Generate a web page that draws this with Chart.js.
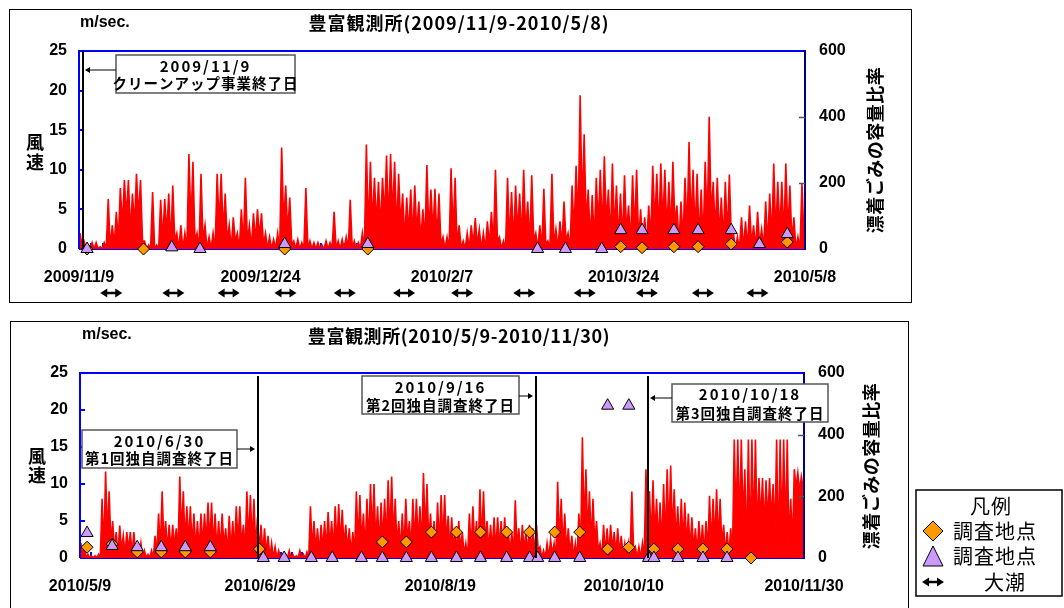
<!DOCTYPE html>
<html lang="ja">
<head>
<meta charset="utf-8">
<title>豊富観測所 風速</title>
<script src="https://cdn.jsdelivr.net/npm/chart.js@4.4.1/dist/chart.umd.min.js"></script>
<style>
  html, body { margin: 0; padding: 0; background: #fff; }
  #page { position: relative; width: 1064px; height: 608px; overflow: hidden; }
  canvas { position: absolute; left: 0; }
</style>
</head>
<body>
<div id="page">
  <canvas id="topChart" width="1064" height="312" style="top:0"></canvas>
  <canvas id="bottomChart" width="1064" height="296" style="top:312px"></canvas>
</div>
<script>
// ---- data: top panel (2009/11/9 - 2010/5/8), one entry per day ----
const topTickDays = [0, 45, 90, 135, 180];
const topTickLabels = ["2009/11/9", "2009/12/24", "2010/2/7", "2010/3/24", "2010/5/8"];

// daily peak / low wind speed (m/sec.)
const topWindHigh = [
  2, 1, 0.5, 0.8, 0.8, 0.3, 0.8, 6.3, 3, 4.7,
  7.7, 8.7, 8.7, 7, 9.5, 8.7, 1, 0.5, 7.2, 0.5,
  6.2, 6.3, 7, 8, 2, 3, 2, 12, 11, 2,
  9.5, 3, 1.5, 2, 9.5, 9.5, 7, 3, 4, 2,
  5, 9, 3, 4.5, 5, 4.5, 2, 1.5, 1.2, 2,
  12.8, 8, 6.5, 1, 1.2, 0.8, 7.7, 1, 0.8, 0.8,
  0.5, 1, 0.8, 4.7, 1, 1.2, 1.5, 6.2, 1, 0.8,
  2, 13.2, 11, 9, 8.5, 9, 11.8, 12, 11, 9.5,
  7, 6.5, 7.5, 8, 6, 5, 10.6, 7.5, 7.6, 7,
  1.5, 1.5, 10.2, 9, 3, 1, 2, 3, 3.9, 2.5,
  2, 3.5, 4.7, 10, 1.5, 1, 9, 7.2, 8, 7,
  10, 6, 9.3, 2, 3, 7.6, 1, 9.5, 2.5, 3.5,
  6, 2, 8, 10.5, 19.4, 14.5, 7.5, 6.8, 9, 10,
  11.7, 7.5, 10.8, 8, 7, 9.3, 5.5, 9.3, 10, 5,
  4, 5.5, 10.5, 9.5, 10.8, 10, 8.5, 11, 5.5, 6,
  9, 13.5, 10, 9.5, 7.5, 11, 16.7, 8.5, 9, 6.5,
  8.5, 9.4, 2, 1.5, 4, 3.5, 5.5, 3, 4.7, 2.5,
  6, 7, 10.8, 8.5, 8.5, 10.8, 8, 4, 1.5, 8.3
];
const topWindLow = [
  0.5, 0, 0, 0, 0, 0, 0, 0, 0.5, 1,
  3, 4, 2, 3, 4, 1, 0, 0, 0, 0,
  1, 2, 0.5, 1, 0, 0, 0, 3, 1, 0,
  1, 0, 0, 0, 3, 2, 1, 0, 1, 0,
  0.5, 1, 0, 1, 1.5, 0.5, 0, 0, 0, 0,
  3, 2, 0.5, 0, 0, 0, 0, 0, 0, 0,
  0, 0, 0, 0, 0, 0, 0, 0, 0, 0,
  0, 2, 3, 3, 2.5, 4, 3, 4, 2, 3,
  1, 2, 1.5, 2, 1, 1, 2, 2, 1, 0.5,
  0, 0, 2, 0.5, 0, 0, 0, 0.5, 0.5, 0,
  0, 0.5, 0.5, 1, 0, 0, 1, 0.5, 2, 1,
  2, 0.5, 1, 0, 0, 0.5, 0, 0.5, 0, 0.5,
  1, 0, 2, 3, 5, 3, 1, 1, 3, 2,
  3, 1, 2, 1, 1, 2, 0.5, 2, 1, 0.5,
  0.5, 1, 3, 2, 3, 2, 2, 3, 0.5, 1,
  2, 3, 2, 1, 1, 3, 4, 2, 1.5, 1,
  1.5, 1, 0, 0, 0, 0, 0.5, 0, 0.5, 0,
  0.5, 1, 2, 2, 1.5, 2, 1, 0, 0, 1
];

// survey points (right axis, 容量比率)
const topDiamondDays = [2, 16, 51, 71.6, 134.3, 139.6, 147.5, 153.5, 161.7, 175.6];
const topDiamondValues = [0, 0, 0, 0, 7, 4, 7, 7, 15, 21];
const topTriangleDays = [2, 23, 30, 51, 71.6, 113.7, 120.6, 129.6, 134.3, 139.6, 147.5, 153.5, 161.7, 168.7, 175.6];
const topTriangleValues = [0, 5, 0, 15, 15, 0, 0, 0, 57, 57, 57, 57, 57, 15, 45];

// spring tides (大潮)
const topTideDays = [8, 23.4, 37.1, 51.2, 65.9, 80.6, 95, 110.4, 125.4, 140.8, 154.7, 168.2];

const topEventDays = [1];
const topEventLabels = [["2009/11/9", "クリーンアップ事業終了日"]];

// ---- data: bottom panel (2010/5/9 - 2010/11/30) ----
const bottomTickDays = [0, 51, 102, 154, 205];
const bottomTickLabels = ["2010/5/9", "2010/6/29", "2010/8/19", "2010/10/10", "2010/11/30"];

const bottomWindHigh = [
  2, 1.5, 0.5, 0.3, 0.3, 0.5, 8, 11.7, 9, 5,
  3.5, 4.4, 3, 3.5, 3.5, 3.5, 1.5, 2, 1, 0.5,
  1, 3, 6, 9, 5, 4.5, 4.5, 4, 11, 9,
  7, 7, 6, 5, 6, 6, 7.5, 7.5, 6, 5,
  6, 4, 5.7, 5, 7, 7, 4.5, 9, 8.5, 8,
  5.5, 4.5, 4, 3, 2, 1.5, 1, 0.5, 0.5, 1,
  0.5, 0.3, 1, 0.5, 0.8, 7, 5, 4, 4.5, 5,
  6.2, 5, 7, 7.3, 6.5, 4.5, 4, 3.5, 9, 8.5,
  6, 8, 10, 10, 7, 7.5, 8, 10.5, 11, 8,
  5, 6, 8, 5, 8, 8, 7, 11.5, 10, 6,
  5, 7.5, 8.5, 8.5, 5.7, 5.5, 4, 5, 3.5, 2,
  6, 7, 5, 9.3, 9, 5, 4.5, 5.5, 5.5, 5,
  5.5, 4, 3.5, 7.8, 4, 4.5, 3.5, 4.5, 4, 4.5,
  1.5, 1, 2, 2.5, 2, 10.3, 8, 6, 4, 3,
  2, 6, 16.3, 12, 9, 8, 5, 2, 4.5, 4,
  4.5, 3.5, 4, 3, 2, 2, 9, 1.5, 1.5, 2,
  12, 9, 10.5, 8, 7.5, 10, 12, 12.5, 9.3, 7,
  8, 7.5, 6, 5.5, 4, 5, 4.5, 5, 8.4, 8,
  9.3, 8, 4.5, 3.5, 4, 16, 16, 16, 12, 16,
  16, 16, 10.8, 10.8, 10.5, 10.8, 10, 16, 16, 16,
  16, 8, 12, 11.5, 11
];
const bottomWindLow = [
  0.5, 0, 0, 0, 0, 0, 1, 3, 2, 1,
  0.5, 1, 0.5, 1, 0.5, 0.5, 0, 0, 0, 0,
  0, 0.5, 1, 2, 1, 1, 1.5, 1, 3, 2,
  2, 1.5, 1, 1, 1.5, 2, 2, 1.5, 1, 1,
  1.5, 0.5, 1, 1, 2, 1.5, 1, 2, 2, 1.5,
  1, 0.5, 0.5, 0, 0, 0, 0, 0, 0, 0,
  0, 0, 0, 0, 0, 1, 1, 0.5, 1, 1,
  1.5, 1, 1.5, 2, 1.5, 1, 0.5, 0.5, 2, 2,
  1, 2, 3, 2, 1.5, 2, 2, 3, 2.5, 1.5,
  1, 1, 2, 1, 2, 2, 1.5, 3, 2, 1,
  1, 1.5, 2, 2, 1, 1, 0.5, 1, 0.5, 0,
  1, 1.5, 1, 2, 2, 1, 1, 1, 1.5, 1,
  1, 0.5, 0.5, 1.5, 0.5, 1, 0.5, 1, 0.5, 1,
  0, 0, 0, 0.5, 0, 2, 1.5, 1, 0.5, 0,
  0, 1, 4, 3, 2, 2, 1, 0, 0.5, 0.5,
  1, 0.5, 0.5, 0.5, 0, 0, 1, 0, 0, 0,
  2, 2, 3, 2, 1.5, 2, 3, 3, 2, 1.5,
  2, 1.5, 1, 1, 0.5, 1, 0.5, 1, 1.5, 2,
  2, 1.5, 0.5, 0.5, 0.5, 5, 4, 5, 0.5, 1,
  3, 3, 5, 4, 5, 5, 3, 0.5, 3, 3,
  2, 1.5, 9.5, 9, 9.5
];

const bottomDiamondDays = [2, 9.1, 16.2, 23, 29.8, 36.9, 50.8, 85.6, 92.4, 99.5, 106.6, 113.4, 120.8, 127.3, 134.4, 141.5, 149.4, 155.4, 162.5, 169.3, 176.4, 183.2, 190];
const bottomDiamondValues = [35, 45, 20, 20, 20, 20, 29, 52, 52, 84, 84, 84, 84, 84, 84, 84, 29, 35, 29, 29, 29, 29, 0];
const bottomTriangleDays = [2, 9.1, 16.2, 23, 29.8, 36.9, 51.9, 57.8, 65.5, 71.4, 79.7, 85.6, 92.4, 99.5, 106.6, 113.4, 120.8, 127.3, 129.6, 134.4, 141.5, 149.4, 155.4, 161, 162.5, 169.3, 176.4, 183.2];
const bottomTriangleValues = [81, 39, 35, 35, 35, 35, 0, 0, 0, 0, 0, 0, 0, 0, 0, 0, 0, 0, 0, 0, 0, 494, 494, 0, 0, 0, 0, 0];

const bottomEventDays = [50.4, 129.1, 160.8];
const bottomEventLabels = [
  ["2010/6/30", "第1回独自調査終了日"],
  ["2010/9/16", "第2回独自調査終了日"],
  ["2010/10/18", "第3回独自調査終了日"]
];

// ---- drawing ----
const FONT_JP = "'Noto Sans CJK JP', 'Noto Sans', sans-serif";
const FONT_EN = "'Liberation Sans', Arial, sans-serif";

function windPoints(high, low) {
  const pts = [];
  high.forEach((h, d) => {
    pts.push({ x: d + 0.25, y: h });
    pts.push({ x: d + 0.75, y: low[d] });
  });
  return pts;
}

function markerPoints(days, values) {
  return days.map((d, i) => ({ x: d, y: values[i] }));
}

function line(ctx, x1, y1, x2, y2) {
  ctx.beginPath();
  ctx.moveTo(x1, y1);
  ctx.lineTo(x2, y2);
  ctx.stroke();
}

function head(ctx, x, y, dir, len, half) {
  ctx.beginPath();
  ctx.moveTo(x, y);
  ctx.lineTo(x - dir * len, y - half);
  ctx.lineTo(x - dir * len, y + half);
  ctx.closePath();
  ctx.fill();
}

function tideArrow(ctx, cx, cy, w) {
  ctx.strokeStyle = "#000";
  ctx.fillStyle = "#000";
  ctx.lineWidth = 2.5;
  line(ctx, cx - w / 2 + 5, cy, cx + w / 2 - 5, cy);
  head(ctx, cx - w / 2, cy, -1, 7, 4.5);
  head(ctx, cx + w / 2, cy, 1, 7, 4.5);
}

function text(ctx, str, x, y, font, align, spacing) {
  ctx.font = font;
  ctx.textAlign = align || "center";
  ctx.textBaseline = "middle";
  ctx.letterSpacing = (spacing || 0) + "px";
  ctx.fillText(str, x, y);
  ctx.letterSpacing = "0px";
}

function panelPlugin(p) {
  return {
    id: "panel",
    beforeDatasetsDraw(chart) {
      const ctx = chart.ctx, a = chart.chartArea, xs = chart.scales.x;
      ctx.save();
      ctx.strokeStyle = "#000";
      ctx.lineWidth = 1;
      ctx.strokeRect(p.frame[0] + 0.5, p.frame[1] + 0.5, p.frame[2], p.frame[3]);
      // baseline and small ticks every 3 days
      ctx.strokeStyle = "#0000ff";
      ctx.lineWidth = 2;
      line(ctx, a.left, a.bottom, a.right, a.bottom);
      for (let d = 3; d < xs.max; d += 3) {
        const px = Math.round(xs.getPixelForValue(d));
        line(ctx, px, a.bottom, px, a.bottom - 6);
      }
      ctx.restore();
    },
    afterDatasetsDraw(chart) {
      const ctx = chart.ctx, a = chart.chartArea;
      const xs = chart.scales.x, ys = chart.scales.y, y2 = chart.scales.y2;
      ctx.save();
      // plot borders
      ctx.lineWidth = 2;
      ctx.strokeStyle = "#0000ff";
      line(ctx, a.left, a.bottom, a.left, a.top);
      line(ctx, a.left - 1, a.top, a.right, a.top);
      ctx.strokeStyle = "#000080";
      line(ctx, a.right, a.top - 1, a.right, a.bottom + 1);
      ctx.strokeStyle = "#0000ff";
      [5, 10, 15, 20].forEach(v => {
        const py = Math.round(ys.getPixelForValue(v));
        line(ctx, a.left, py, a.left + 5, py);
      });
      ctx.strokeStyle = "#555";
      ctx.lineWidth = 1.5;
      [200, 400].forEach(v => {
        const py = Math.round(y2.getPixelForValue(v)) + 0.5;
        line(ctx, a.right - 6, py, a.right, py);
      });

      // event lines with labelled boxes
      p.events.forEach((ev) => {
        const px = Math.round(xs.getPixelForValue(ev.day));
        ctx.strokeStyle = "#000";
        ctx.lineWidth = 2;
        line(ctx, px, a.top + p.lineTop, px, a.bottom);
        const [bx, by, bw, bh] = ev.box;
        ctx.fillStyle = "#fff";
        ctx.fillRect(bx, by, bw, bh);
        ctx.strokeStyle = "#555";
        ctx.lineWidth = 1.5;
        ctx.strokeRect(bx, by, bw, bh);
        ctx.fillStyle = "#000";
        text(ctx, ev.labels[0], bx + bw / 2, ev.textY[0], "bold 15px " + FONT_JP, "center", 2);
        text(ctx, ev.labels[1], bx + bw / 2, ev.textY[1], "bold 14.5px " + FONT_JP, "center", 1);
        ctx.strokeStyle = "#000";
        ctx.lineWidth = 1;
        if (bx > px) {
          line(ctx, bx, ev.arrowY, px + 6, ev.arrowY);
          head(ctx, px + 2, ev.arrowY, -1, 5, 3);
        } else {
          line(ctx, bx + bw, ev.arrowY, px - 6, ev.arrowY);
          head(ctx, px - 3, ev.arrowY, 1, 5, 3);
        }
      });
      ctx.restore();
    },
    afterDraw(chart) {
      const ctx = chart.ctx, xs = chart.scales.x;
      ctx.save();
      ctx.fillStyle = "#000";
      text(ctx, p.title, 459, p.titleY, "bold 18px " + FONT_JP, "center", p.titleSpacing);
      text(ctx, "m/sec.", p.unit[0], p.unit[1], "bold 16px " + FONT_EN, "left", 0);
      text(ctx, "風", p.leftTitle[0], p.leftTitle[1], "bold 18px " + FONT_JP, "center", 0);
      text(ctx, "速", p.leftTitle[0], p.leftTitle[2], "bold 18px " + FONT_JP, "center", 0);
      ctx.save();
      ctx.translate(p.rightTitle[0], p.rightTitle[1]);
      ctx.rotate(-Math.PI / 2);
      text(ctx, "漂着ごみの容量比率", 0, 0, "bold 18px " + FONT_JP, "center", 0.5);
      ctx.restore();

      (p.tides || []).forEach(d => tideArrow(ctx, xs.getPixelForValue(d), p.tideY, 22));

      if (p.legend) {
        const L = p.legend;
        ctx.fillStyle = "#fff";
        ctx.fillRect(L.box[0], L.box[1], L.box[2], L.box[3]);
        ctx.strokeStyle = "#000";
        ctx.lineWidth = 1.5;
        ctx.strokeRect(L.box[0], L.box[1], L.box[2], L.box[3]);
        ctx.fillStyle = "#000";
        text(ctx, "凡例", L.box[0] + L.box[2] / 2 + 2, L.rows[0], "20px " + FONT_JP, "center", 1);
        // diamond
        const mx = L.markerX;
        let y = L.rows[1];
        ctx.beginPath();
        ctx.moveTo(mx, y - 10); ctx.lineTo(mx + 10, y); ctx.lineTo(mx, y + 10); ctx.lineTo(mx - 10, y);
        ctx.closePath();
        ctx.fillStyle = "#ff9900"; ctx.fill();
        ctx.strokeStyle = "#000"; ctx.lineWidth = 1; ctx.stroke();
        ctx.fillStyle = "#000";
        text(ctx, "調査地点", L.textX, y, "20px " + FONT_JP, "left", 1);
        // triangle
        y = L.rows[2];
        ctx.beginPath();
        ctx.moveTo(mx, y - 10); ctx.lineTo(mx + 10, y + 10); ctx.lineTo(mx - 10, y + 10);
        ctx.closePath();
        ctx.fillStyle = "#cc99ff"; ctx.fill();
        ctx.strokeStyle = "#000"; ctx.stroke();
        ctx.fillStyle = "#000";
        text(ctx, "調査地点", L.textX, y, "20px " + FONT_JP, "left", 1);
        // tide arrow
        y = L.rows[3];
        tideArrow(ctx, mx, y, 22);
        ctx.fillStyle = "#000";
        text(ctx, "大潮", L.tideTextX, y, "20px " + FONT_JP, "center", 1);
      }
      ctx.restore();
    }
  };
}

function makeChart(id, p) {
  const a = p.area;
  const tickFont = { family: FONT_EN, size: 16, weight: "bold" };
  return new Chart(document.getElementById(id), {
    type: "line",
    data: {
      datasets: [
        {
          label: "調査地点",
          data: markerPoints(p.triDays, p.triValues),
          yAxisID: "y2",
          showLine: false,
          pointStyle: "triangle",
          pointRadius: 7,
          pointBackgroundColor: "#cc99ff",
          pointBorderColor: "#000",
          pointBorderWidth: 1,
          clip: false,
        },
        {
          label: "調査地点",
          data: markerPoints(p.diaDays, p.diaValues),
          yAxisID: "y2",
          showLine: false,
          pointStyle: "rectRot",
          pointRadius: 6,
          pointBackgroundColor: "#ff9900",
          pointBorderColor: "#000",
          pointBorderWidth: 1,
          clip: false,
        },
        {
          label: "風速",
          data: windPoints(p.high, p.low),
          yAxisID: "y",
          borderColor: "#ff0000",
          backgroundColor: "#ff0000",
          borderWidth: 1.6,
          fill: "origin",
          pointRadius: 0,
          tension: 0,
        },
      ],
    },
    options: {
      responsive: false,
      animation: false,
      events: [],
      layout: { padding: { top: a.top, left: 0, right: 0, bottom: 0 } },
      plugins: { legend: { display: false }, tooltip: { enabled: false } },
      scales: {
        x: {
          type: "linear",
          min: 0,
          max: p.days,
          afterBuildTicks: (s) => { s.ticks = p.tickDays.map((v) => ({ value: v })); },
          afterFit: (s) => { s.height = p.height - a.bottom; },
          grid: { display: false, drawTicks: false },
          border: { display: false },
          ticks: {
            callback: (v, i) => p.tickLabels[i],
            autoSkip: false,
            maxRotation: 0,
            padding: 19,
            color: "#000",
            font: tickFont,
          },
        },
        y: {
          position: "left",
          min: 0,
          max: 25,
          afterFit: (s) => { s.width = a.left; },
          grid: { display: false, drawTicks: false },
          border: { display: false },
          ticks: { stepSize: 5, padding: 12, color: "#000", font: tickFont },
        },
        y2: {
          position: "right",
          min: 0,
          max: 600,
          afterFit: (s) => { s.width = 1064 - a.right; },
          grid: { display: false, drawTicks: false },
          border: { display: false },
          ticks: { stepSize: 200, padding: 14, color: "#000", font: tickFont },
        },
      },
    },
    plugins: [panelPlugin(p)],
  });
}

makeChart("topChart", {
  height: 312,
  area: { left: 79, right: 805, top: 51, bottom: 249 },
  days: 180,
  tickDays: topTickDays,
  tickLabels: topTickLabels,
  high: topWindHigh,
  low: topWindLow,
  diaDays: topDiamondDays,
  diaValues: topDiamondValues,
  triDays: topTriangleDays,
  triValues: topTriangleValues,
  frame: [9, 9, 902, 293],
  title: "豊富観測所(2009/11/9-2010/5/8)",
  titleY: 23,
  titleSpacing: 1,
  unit: [80, 23],
  leftTitle: [35, 142, 162],
  rightTitle: [875, 150],
  lineTop: 0,
  events: [
    { day: topEventDays[0], labels: topEventLabels[0], box: [116, 55, 179, 38], textY: [66, 83], arrowY: 70 },
  ],
  tides: topTideDays,
  tideY: 293,
});

makeChart("bottomChart", {
  height: 296,
  area: { left: 80, right: 804, top: 61, bottom: 246 },
  days: 205,
  tickDays: bottomTickDays,
  tickLabels: bottomTickLabels,
  high: bottomWindHigh,
  low: bottomWindLow,
  diaDays: bottomDiamondDays,
  diaValues: bottomDiamondValues,
  triDays: bottomTriangleDays,
  triValues: bottomTriangleValues,
  frame: [10, 9, 898, 400],
  title: "豊富観測所(2010/5/9-2010/11/30)",
  titleY: 24,
  titleSpacing: 0.6,
  unit: [82, 23],
  leftTitle: [37, 144, 163],
  rightTitle: [871, 154],
  lineTop: 3,
  events: [
    { day: bottomEventDays[0], labels: bottomEventLabels[0], box: [82, 118, 155, 38], textY: [129, 146], arrowY: 137 },
    { day: bottomEventDays[1], labels: bottomEventLabels[1], box: [362, 64, 157, 38], textY: [75, 93], arrowY: 84 },
    { day: bottomEventDays[2], labels: bottomEventLabels[2], box: [672, 72, 156, 38], textY: [82, 101], arrowY: 86 },
  ],
  legend: {
    box: [916, 178, 146, 106],
    rows: [194, 219, 244, 270],
    markerX: 933,
    textX: 953,
    tideTextX: 1005,
  },
});
</script>
</body>
</html>
